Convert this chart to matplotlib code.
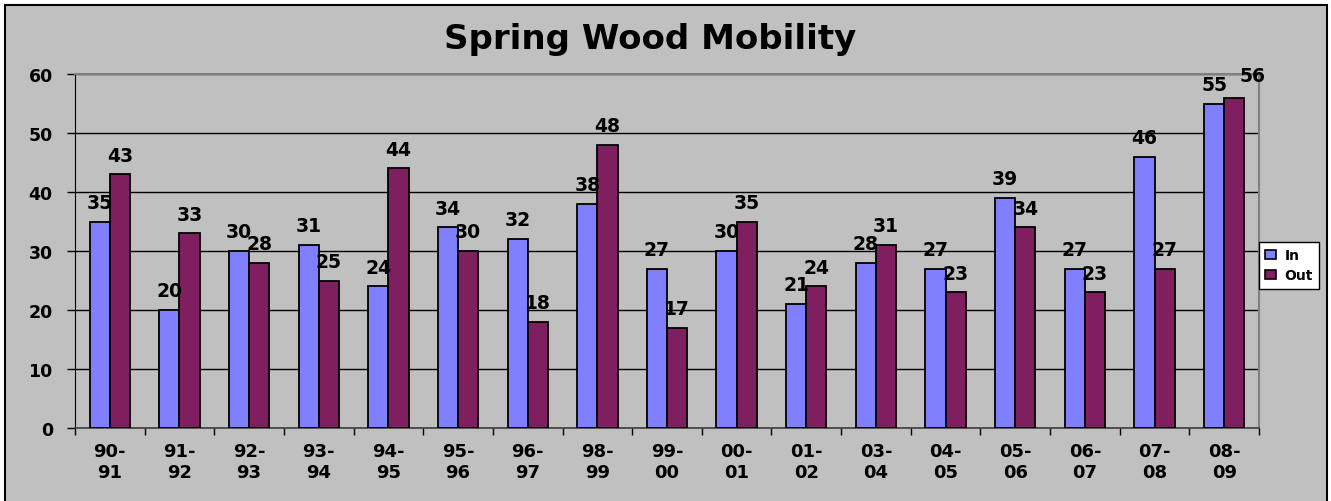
import matplotlib
matplotlib.use("Agg")
import matplotlib.pyplot as plt
from matplotlib.patches import Rectangle, Patch
import numpy as np

categories = ["90-\n91", "91-\n92", "92-\n93", "93-\n94", "94-\n95", "95-\n96", "96-\n97",
              "98-\n99", "99-\n00", "00-\n01", "01-\n02", "03-\n04", "04-\n05", "05-\n06",
              "06-\n07", "07-\n08", "08-\n09"]
in_values = [35, 20, 30, 31, 24, 34, 32, 38, 27, 30, 21, 28, 27, 39, 27, 46, 55]
out_values = [43, 33, 28, 25, 44, 30, 18, 48, 17, 35, 24, 31, 23, 34, 23, 27, 56]
series_names = ["In", "Out"]
title = "Spring Wood Mobility"

plt.rcParams['font.family'] = ['DejaVu Sans']

W, H = 1331, 502
fig = plt.figure(figsize=(W / 100, H / 100), dpi=100)
fig.patch.set_facecolor('white')

# chart area background with black border
fig.patches.append(Rectangle((4.5 / W, -0.02), (1327 - 4.5) / W, (H - 5.5) / H + 0.02,
                             transform=fig.transFigure, facecolor='#C0C0C0',
                             edgecolor='black', linewidth=1.5, zorder=-10))

ax = fig.add_axes([75 / W, (H - 429) / H, (1259 - 75) / W, (429 - 75) / H])
ax.set_facecolor('#C0C0C0')

x = np.arange(len(categories))
w = 0.29
b1 = ax.bar(x - 0.145, in_values, w, color='#8080FF', edgecolor='black', linewidth=1.3,
            label=series_names[0], zorder=3)
b2 = ax.bar(x + 0.145, out_values, w, color='#7F1F5F', edgecolor='black', linewidth=1.3,
            label=series_names[1], zorder=3)
lab1 = ax.bar_label(b1, padding=7, fontsize=13.5, fontweight='bold', zorder=5)
lab2 = ax.bar_label(b2, padding=7, fontsize=13.5, fontweight='bold', zorder=5)
# the last "Out" label is nudged right, as in the reference (offset in points)
lab2[-1].set_position((13, 9))
lab2[-1].set_clip_on(False)

ax.set_xlim(-0.5, len(categories) - 0.5)
ax.set_ylim(0, 60)
ax.set_yticks(range(0, 61, 10))
ax.yaxis.grid(True, color='black', linewidth=1.0, zorder=1)
ax.set_axisbelow(True)

ax.set_xticks(x)
ax.set_xticklabels(categories, fontsize=13, fontweight='bold', linespacing=1.25)
ax.tick_params(axis='x', which='major', length=0, pad=10)
ax.set_xticks(np.arange(-0.5, len(categories), 1), minor=True)
ax.tick_params(axis='x', which='minor', length=5, width=1, color='black', direction='out')
ax.tick_params(axis='y', length=6, width=1, color='black', direction='out', pad=10,
               labelsize=12.5)
for lab in ax.get_yticklabels():
    lab.set_fontweight('bold')

for s in ['top', 'right']:
    ax.spines[s].set_color('#808080')
    ax.spines[s].set_linewidth(1.5)
ax.spines['left'].set_color('black')
ax.spines['bottom'].set_color('#404040')
ax.spines['bottom'].set_linewidth(1.2)

fig.text(650 / W, (H - 40) / H, title, ha='center', va='center',
         fontsize=24.5, fontweight='bold')

handles = [Patch(facecolor='#8080FF', edgecolor='black', linewidth=1.2),
           Patch(facecolor='#7F1F5F', edgecolor='black', linewidth=1.2)]
leg = fig.legend(handles, series_names, loc='upper left',
                 bbox_to_anchor=(1259 / W, (H - 243) / H), borderaxespad=0,
                 prop={'weight': 'bold', 'size': 10}, fancybox=False,
                 framealpha=1, edgecolor='black', handlelength=0.8, handleheight=0.6,
                 handletextpad=0.6, borderpad=0.45, labelspacing=0.45)
leg.get_frame().set_linewidth(1.0)

fig.savefig('out.png', dpi=100, facecolor=fig.get_facecolor())
